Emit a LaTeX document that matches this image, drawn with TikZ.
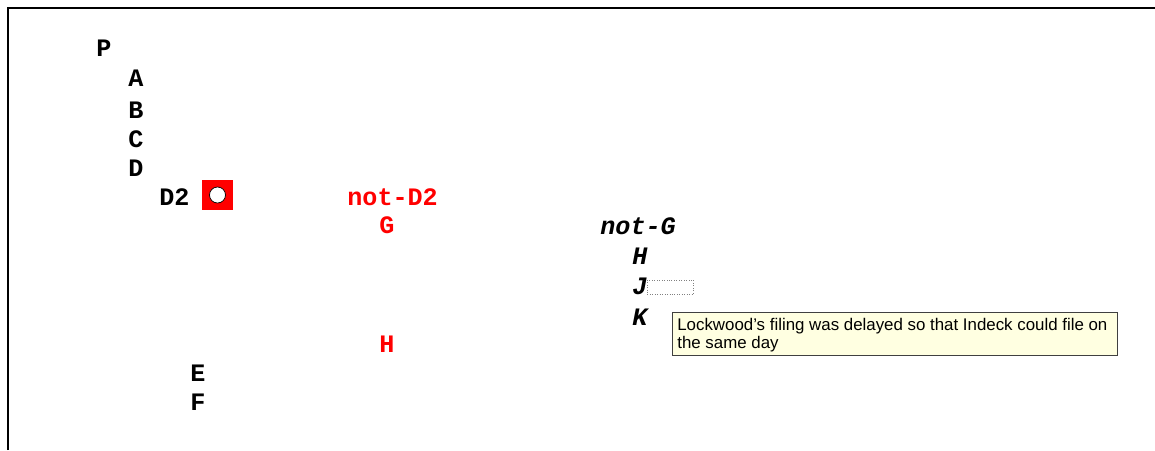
\documentclass[tikz,border=0pt]{standalone}
\usepackage{fontspec}
\setmainfont{Liberation Sans}
\setmonofont{Liberation Mono}
\usetikzlibrary{positioning}
\definecolor{tipyellow}{RGB}{255,255,225}

\begin{document}
\begin{tikzpicture}[
  x=0.02cm,
  y=-0.02cm,
  item/.style={anchor=base west,inner sep=0pt,
    font=\ttfamily\bfseries\fontsize{14.3}{16}\selectfont},
  open/.style={item,text=red},
  slant/.style={item,font=\ttfamily\bfseries\itshape\fontsize{14.3}{16}\selectfont}]

\useasboundingbox (0,0) rectangle (1155,450);

% --- page edge ---
\draw[line width=1.1pt] (8,450) -- (8,8) -- (1155,8);

% --- outline, black items ---
\foreach \n/\x/\y in {P/96/56, A/128/86, B/128/118, C/128/147,
                      D/128/176, D2/159/205, E/190/381, F/190/410}
  \node[item] (\n) at (\x,\y) {\n};

% --- selected radio button ---
\node[fill=red,minimum width=0.62cm,minimum height=0.6cm,inner sep=0pt]
  (radio) at (217.5,195) {};
\node[circle,draw=black,fill=white,minimum size=0.32cm,inner sep=0pt]
  (dot) at (radio.center) {};

% --- alternative branch, red ---
\node[open] (notD2) at (347,205) {not-D2};
\node[open] (G)     at (379,233) {G};
\node[open] (Hred)  at (379,352) {H};

% --- italic branch ---
\node[slant] (notG) at (600,234) {not-G};
\node[slant] (H)    at (632,264) {H};
\node[slant] (J)    at (632,294) {J};
\node[slant] (K)    at (632,325) {K};

% --- empty field after J ---
\node[draw=gray,densely dotted,anchor=west,inner sep=0pt,
  minimum width=0.92cm,minimum height=0.28cm] (jbox) at (647,287) {};

% --- tooltip ---
\node[draw=black!75,fill=tipyellow,anchor=north west,inner sep=0pt,
  minimum width=8.9cm,minimum height=0.86cm] (tip) at (672,312) {};
\node[anchor=north west,inner sep=0pt,align=left,
  font=\fontsize{9.6}{10.2}\selectfont] (tiptext) at ([xshift=0.1cm,yshift=-0.12cm]tip.north west)
  {Lockwood's filing was delayed so that Indeck could file on\\the same day};

\end{tikzpicture}
\end{document}
